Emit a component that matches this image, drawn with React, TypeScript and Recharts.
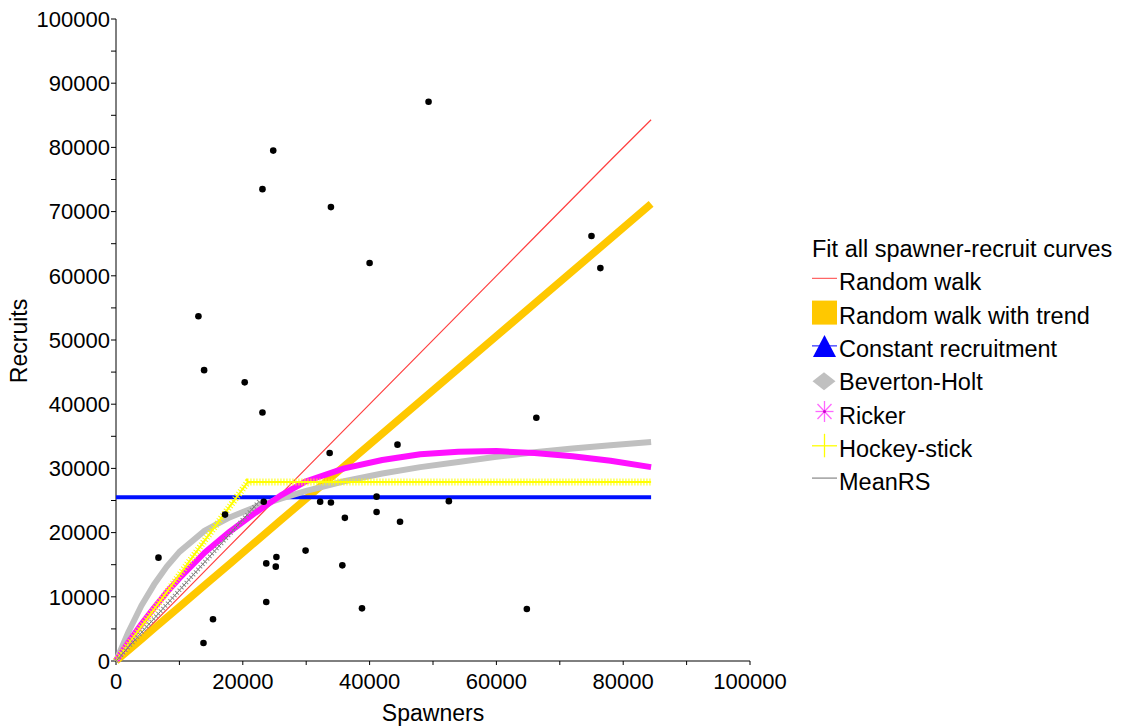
import { ScatterChart, Scatter, XAxis, YAxis, Legend, Label } from 'recharts'

// fitted curves (spawners -> recruits)
const fitSpawners = [0, 2000, 4000, 6000, 8000, 10000, 14000, 18000, 22000, 26000, 30000, 36000, 42000, 48000, 54000, 60000, 66000, 72000, 78000, 84400]
const randomWalk = [0, 2000, 4000, 6000, 8000, 10000, 14000, 18000, 22000, 26000, 30000, 36000, 42000, 48000, 54000, 60000, 66000, 72000, 78000, 84300]
const randomWalkTrend = [0, 1690, 3370, 5060, 6750, 8430, 11810, 15180, 18560, 21930, 25300, 30360, 35420, 40480, 45540, 50600, 55660, 60720, 65790, 71200]
const constantRecruitment = [25500, 25500, 25500, 25500, 25500, 25500, 25500, 25500, 25500, 25500, 25500, 25500, 25500, 25500, 25500, 25500, 25500, 25500, 25500, 25500]
const bevertonHolt = [0, 4600, 8600, 11900, 14700, 17000, 20300, 22400, 24000, 25300, 26500, 28000, 29200, 30200, 31000, 31800, 32500, 33100, 33600, 34100]
const ricker = [0, 2960, 5720, 8290, 10700, 12900, 16900, 20200, 23100, 25800, 28000, 30000, 31300, 32200, 32600, 32700, 32400, 31900, 31200, 30200]

const hockeySpawners = [0, 20800, 84400]
const hockeyStick = [0, 27900, 27900]

const meanRSSpawners = [0, 22600]
const meanRS = [0, 24900]

// observed spawner-recruit pairs
const obsSpawners = [6700, 13000, 13900, 13800, 15300, 17200, 20300, 23100, 23100, 23300, 23700, 23700, 24800, 25300, 25200, 29900, 32200, 33900, 33900, 33700, 36100, 35700, 38800, 40000, 41100, 41100, 44400, 44800, 49300, 52500, 64800, 66300, 75000, 76400]
const obsRecruits = [16100, 53700, 45300, 2800, 6500, 22800, 43400, 73500, 38700, 24800, 15200, 9200, 79500, 16200, 14700, 17200, 24800, 70700, 24700, 32400, 22300, 14900, 8200, 62000, 25600, 23200, 33700, 21700, 87100, 24900, 8100, 37900, 66200, 61200]

const xTicks = [0, 10000, 20000, 30000, 40000, 50000, 60000, 70000, 80000, 90000, 100000]
const yTicks = [0, 5000, 10000, 15000, 20000, 25000, 30000, 35000, 40000, 45000, 50000, 55000, 60000, 65000, 70000, 75000, 80000, 85000, 90000, 95000, 100000]

const legendNames = ['Random walk', 'Random walk with trend', 'Constant recruitment', 'Beverton-Holt', 'Ricker', 'Hockey-stick', 'MeanRS']

const font = '"Liberation Sans", Arial, sans-serif'

const zip = (xs: number[], ys: number[]) => xs.map((s, i) => ({ s, r: ys[i] }))

const noDot = () => <g />

function LegendBox() {
  const x0 = 12
  const titleY = 32
  const step = 33.3
  const icons = [
    (y: number) => <line x1={x0} x2={x0 + 25} y1={y - 12} y2={y - 12} stroke="#ff4040" strokeWidth={1} />,
    (y: number) => <rect x={x0} y={y - 23} width={25} height={24} fill="#ffc800" />,
    (y: number) => (
      <g>
        <polygon points={`${x0 + 12.5},${y - 22} ${x0 + 1},${y} ${x0 + 24},${y}`} fill="#0000ff" />
        <line x1={x0} x2={x0 + 25} y1={y - 11} y2={y - 11} stroke="#0000ff" strokeWidth={1} />
      </g>
    ),
    (y: number) => <polygon points={`${x0 + 12},${y - 18} ${x0 + 23.5},${y - 9} ${x0 + 12},${y} ${x0 + 0.5},${y - 9}`} fill="#c0c0c0" />,
    (y: number) => {
      const cx = x0 + 12.5
      const cy = y - 12
      return (
        <g stroke="#ff66ff" strokeWidth={1.3}>
          <line x1={cx} x2={cx} y1={cy - 10.5} y2={cy + 10.5} />
          <line x1={cx - 9} x2={cx + 9} y1={cy} y2={cy} />
          <line x1={cx - 7} x2={cx + 7} y1={cy - 7.5} y2={cy + 7.5} />
          <line x1={cx - 7} x2={cx + 7} y1={cy + 7.5} y2={cy - 7.5} />
          <circle cx={cx} cy={cy} r={1.5} fill="#cc00cc" stroke="none" />
        </g>
      )
    },
    (y: number) => (
      <g stroke="#ffff00" strokeWidth={1.3}>
        <line x1={x0} x2={x0 + 25} y1={y - 11} y2={y - 11} />
        <line x1={x0 + 12.5} x2={x0 + 12.5} y1={y - 23} y2={y + 0.5} />
      </g>
    ),
    (y: number) => <line x1={x0} x2={x0 + 25} y1={y - 12} y2={y - 12} stroke="#909090" strokeWidth={1.3} />,
  ]
  return (
    <svg width={321} height={290} style={{ display: 'block' }}>
      <text x={x0} y={titleY} fontSize={23.5} fontFamily={font} fill="#000">Fit all spawner-recruit curves</text>
      {legendNames.map((name, i) => {
        const y = titleY + step * (i + 1)
        return (
          <g key={name}>
            {icons[i](y)}
            <text x={x0 + 27} y={y} fontSize={23.5} fontFamily={font} fill="#000">{name}</text>
          </g>
        )
      })}
    </svg>
  )
}

export default function App() {
  const tickStyle = { fill: '#000', fontSize: 22, fontFamily: font }
  return (
    <div style={{ position: 'absolute', left: 0, top: 0, background: '#fff' }}>
      <ScatterChart width={1121} height={727} margin={{ top: 19, right: 371, bottom: 0, left: 0 }}>
        <XAxis
          type="number"
          dataKey="s"
          domain={[0, 100000]}
          ticks={xTicks}
          tickFormatter={(v: number) => (v % 20000 === 0 ? String(v) : '')}
          height={66}
          tickSize={4}
          tickMargin={8}
          tick={tickStyle}
          axisLine={{ stroke: '#000' }}
          tickLine={{ stroke: '#000' }}
          interval={0}
        >
          <Label
            content={() => (
              <text x={433} y={721} textAnchor="middle" fontSize={23} fontFamily={font} fill="#000">Spawners</text>
            )}
          />
        </XAxis>
        <YAxis
          type="number"
          dataKey="r"
          domain={[0, 100000]}
          ticks={yTicks}
          tickFormatter={(v: number) => (v % 10000 === 0 ? String(v) : '')}
          width={116}
          tickSize={5}
          tickMargin={1}
          tick={tickStyle}
          axisLine={{ stroke: '#000' }}
          tickLine={{ stroke: '#000' }}
          interval={0}
        >
          <Label
            content={() => (
              <text x={27} y={341} transform="rotate(-90, 27, 341)" textAnchor="middle" fontSize={23} fontFamily={font} fill="#000">Recruits</text>
            )}
          />
        </YAxis>
        <Legend
          layout="vertical"
          align="center"
          verticalAlign="middle"
          wrapperStyle={{ left: 800, top: 225, width: 321, height: 290 }}
          content={() => <LegendBox />}
        />
        <Scatter name="Random walk" data={zip(fitSpawners, randomWalk)} line={{ stroke: '#ff4040', strokeWidth: 1.2 }} shape={noDot} isAnimationActive={false} />
        <Scatter name="Random walk with trend" data={zip(fitSpawners, randomWalkTrend)} line={{ stroke: '#ffc800', strokeWidth: 7.5 }} shape={noDot} isAnimationActive={false} />
        <Scatter name="Constant recruitment" data={zip(fitSpawners, constantRecruitment)} line={{ stroke: '#0010ff', strokeWidth: 4 }} shape={noDot} isAnimationActive={false} />
        <Scatter name="Beverton-Holt" data={zip(fitSpawners, bevertonHolt)} line={{ stroke: '#c0c0c0', strokeWidth: 6, strokeLinejoin: 'round' }} shape={noDot} isAnimationActive={false} />
        <Scatter name="Ricker" data={zip(fitSpawners, ricker)} line={{ stroke: '#ff10ff', strokeWidth: 6, strokeLinejoin: 'round' }} shape={noDot} isAnimationActive={false} />
        <Scatter name="Hockey-stick" data={zip(hockeySpawners, hockeyStick)} line={{ stroke: '#ffff00', strokeWidth: 2 }} shape={noDot} isAnimationActive={false} />
        <Scatter name="Hockey-stick marks" data={zip(hockeySpawners, hockeyStick)} line={{ stroke: '#ffff00', strokeWidth: 7, strokeDasharray: '1 2' }} shape={noDot} isAnimationActive={false} />
        <Scatter name="MeanRS" data={zip(meanRSSpawners, meanRS)} line={{ stroke: '#707070', strokeWidth: 1 }} shape={noDot} isAnimationActive={false} />
        <Scatter name="MeanRS marks" data={zip(meanRSSpawners, meanRS)} line={{ stroke: '#8a8a8a', strokeWidth: 5, strokeDasharray: '1 2.5' }} shape={noDot} isAnimationActive={false} />
        <Scatter name="Observed" data={zip(obsSpawners, obsRecruits)} fill="#000" shape={(p: any) => <circle cx={p.cx} cy={p.cy} r={3.3} fill="#000" />} isAnimationActive={false} />
      </ScatterChart>
    </div>
  )
}
